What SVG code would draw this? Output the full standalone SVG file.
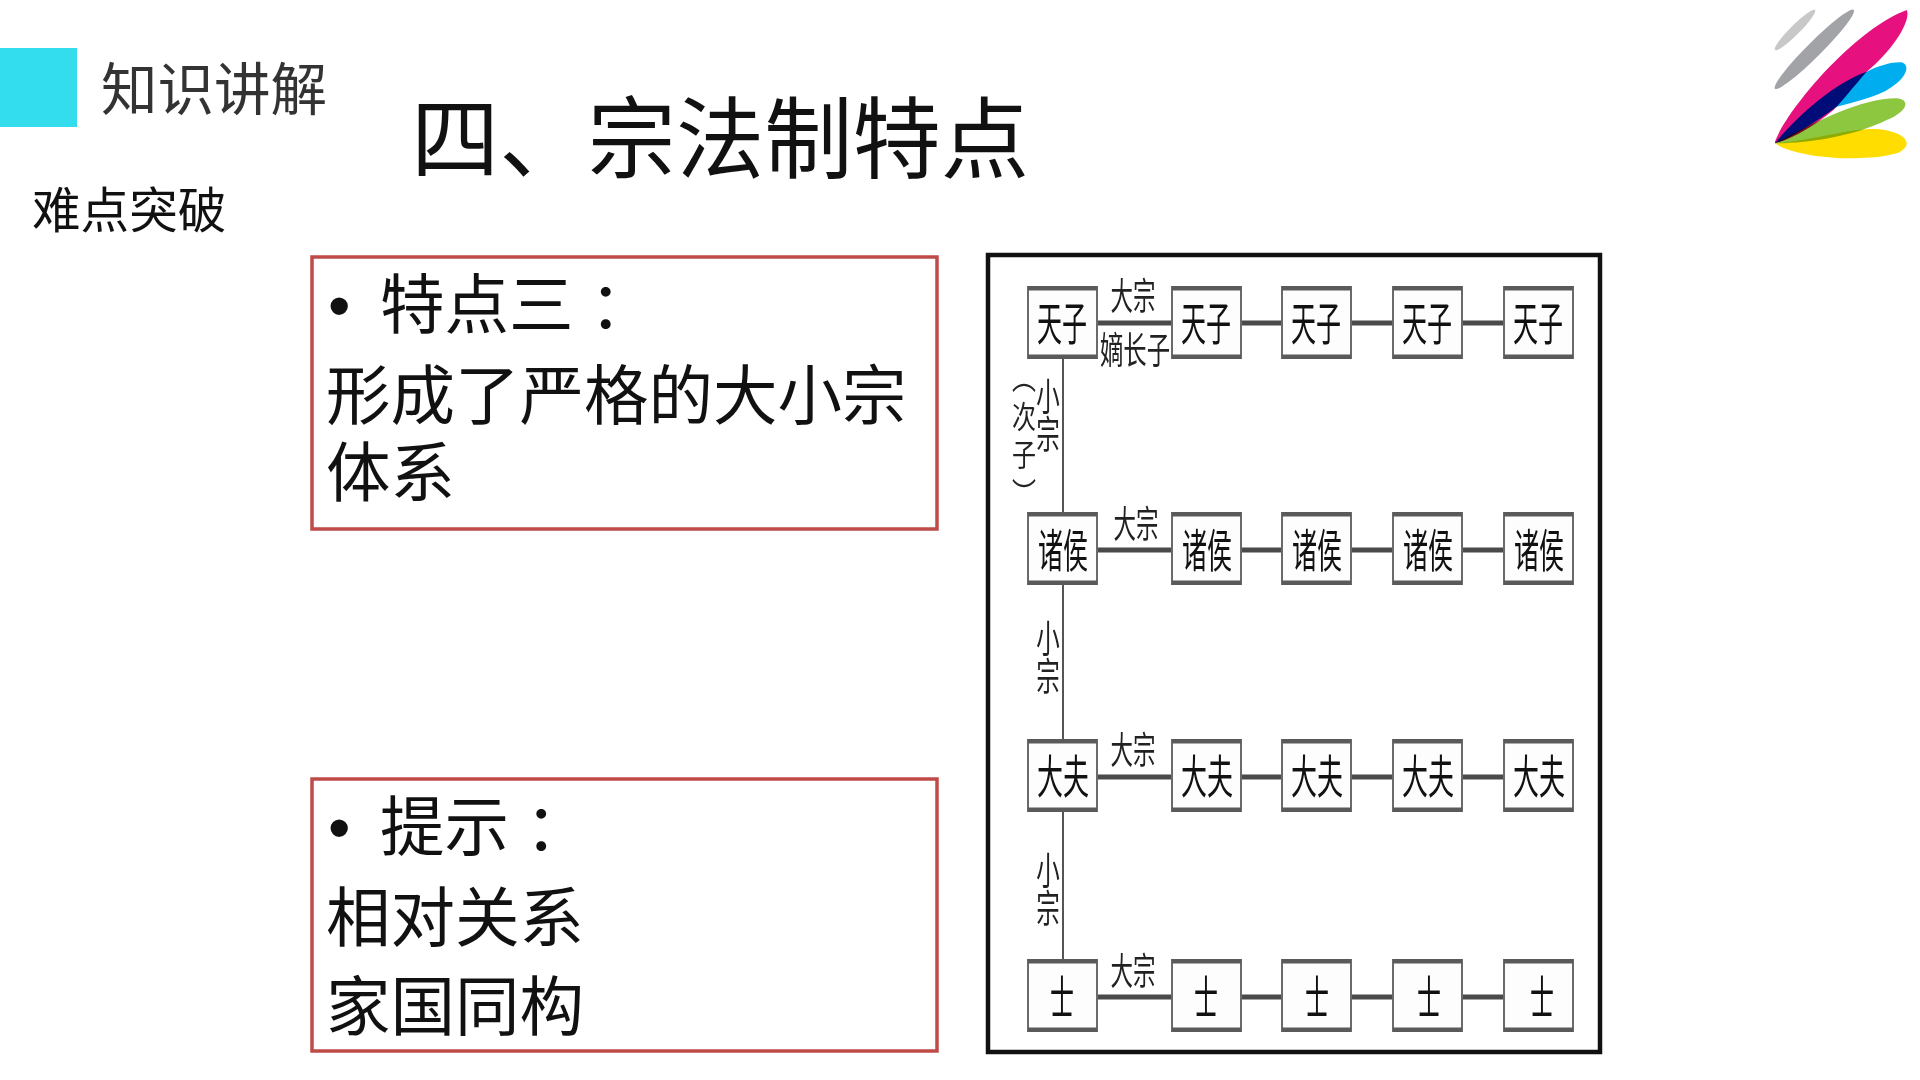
<svg xmlns="http://www.w3.org/2000/svg" width="1920" height="1080" viewBox="0 0 1920 1080">
<style>
text{font-family:"Noto Sans CJK SC","Noto Sans",sans-serif;fill:#111}
.b{fill:none;stroke:#BE4B48;stroke-width:3.5}
.t{font-size:64.5px}
.bu{font-family:"Liberation Sans",sans-serif;font-size:64px}
.n{fill:#fdfdfd;stroke:#6a6a6a;stroke-width:2}
.bar{fill:#5a5a5a}
.nt{font-size:46px;text-anchor:middle}
.l{font-size:37px;fill:#222;text-anchor:middle}
.vl{font-size:38px;fill:#222;writing-mode:vertical-rl}
.vp{font-size:30px;fill:#222;writing-mode:vertical-rl;letter-spacing:8px}
.c{stroke:#4a4a4a;stroke-width:5;fill:none}
.v{stroke:#555;stroke-width:2;fill:none}
</style>
<defs>
<g id="nd"><rect class="n" x="0" y="0" width="69" height="71"/><rect class="bar" x="0" y="-1" width="69" height="4.5"/><rect class="bar" x="0" y="67.5" width="69" height="4.5"/></g>
</defs>
<rect width="1920" height="1080" fill="#fff"/>
<g id="logo" transform="translate(1720 0) scale(.33333)">
<ellipse cx="225" cy="90" rx="85" ry="14" fill="#c8c8c8" transform="rotate(-45 225 90)"/>
<ellipse cx="283" cy="148" rx="167" ry="22" fill="#a1a3a6" transform="rotate(-45 283 148)"/>
<path d="M165 425C200 330 400 90 560 30C575 60 520 150 440 215C400 260 370 300 340 330C280 380 220 415 165 430Z" fill="#E6117F"/>
<path d="M165 430C230 350 340 250 440 215C480 195 520 185 545 187C570 195 560 225 530 250C490 285 430 300 350 320C280 370 220 410 165 430Z" fill="#00ADEF" style="mix-blend-mode:multiply"/>
<path d="M165 430C280 370 420 295 530 295C575 300 560 335 500 360C400 410 260 430 165 430Z" fill="#8DC63F" style="mix-blend-mode:multiply"/>
<path d="M165 430C290 420 400 380 480 388C570 400 580 440 530 460C450 485 240 480 165 430Z" fill="#FFDD00" style="mix-blend-mode:multiply"/>
</g>
<g id="header">
<rect x="0" y="48" width="77" height="79" fill="#33DDEE"/>
<text x="101" y="110" font-size="56.5" style="fill:#333">知识讲解</text>
<text x="411" y="171" font-size="88.3">四、宗法制特点</text>
<text x="32" y="228" font-size="48.6">难点突破</text>
</g>
<g id="box1">
<rect class="b" x="312" y="257" width="625" height="272"/>
<text class="bu" x="328" y="328">•</text>
<text class="t" x="380" y="328">特点三<tspan dy="4" style="font-family:'Noto Sans CJK TC',sans-serif">：</tspan></text>
<text class="t" x="326" y="419">形成了严格的大小宗</text>
<text class="t" x="326" y="496">体系</text>
</g>
<g id="box2">
<rect class="b" x="312" y="779" width="625" height="272"/>
<text class="bu" x="328" y="850">•</text>
<text class="t" x="380" y="850">提示<tspan dy="4" style="font-family:'Noto Sans CJK TC',sans-serif">：</tspan></text>
<text class="t" x="326" y="941">相对关系</text>
<text class="t" x="326" y="1030">家国同构</text>
</g>
<rect id="frame" x="988" y="255" width="612" height="797" fill="none" stroke="#111" stroke-width="4.5"/>
<g id="connectors">
<path class="v" d="M1063 358V959"/>
<path class="c" d="M1097 323H1504M1097 550H1504M1097 777H1504M1097 997H1504"/>
</g>
<g id="labels">
<text class="l" x="1133" y="310" textLength="45" lengthAdjust="spacingAndGlyphs">大宗</text>
<text class="l" x="1135" y="364" textLength="70" lengthAdjust="spacingAndGlyphs">嫡长子</text>
<text class="l" x="1136" y="538" textLength="45" lengthAdjust="spacingAndGlyphs">大宗</text>
<text class="l" x="1133" y="764" textLength="45" lengthAdjust="spacingAndGlyphs">大宗</text>
<text class="l" x="1133" y="985" textLength="45" lengthAdjust="spacingAndGlyphs">大宗</text>
<text class="vl" transform="translate(1048 377) scale(.62 1)">小宗</text>
<text class="vl" transform="translate(1048 619) scale(.62 1)">小宗</text>
<text class="vl" transform="translate(1048 851) scale(.62 1)">小宗</text>
<text class="vp" transform="translate(1024 362) scale(.8 1.02)">（次子）</text>
</g>
<g id="nodes">
<g id="n11"><use href="#nd" x="1028" y="287"/><text class="nt" x="1062" y="340" textLength="50" lengthAdjust="spacingAndGlyphs">天子</text></g>
<g id="n12"><use href="#nd" x="1172" y="287"/><text class="nt" x="1206" y="340" textLength="50" lengthAdjust="spacingAndGlyphs">天子</text></g>
<g id="n13"><use href="#nd" x="1282" y="287"/><text class="nt" x="1316" y="340" textLength="50" lengthAdjust="spacingAndGlyphs">天子</text></g>
<g id="n14"><use href="#nd" x="1393" y="287"/><text class="nt" x="1427" y="340" textLength="50" lengthAdjust="spacingAndGlyphs">天子</text></g>
<g id="n15"><use href="#nd" x="1504" y="287"/><text class="nt" x="1538" y="340" textLength="50" lengthAdjust="spacingAndGlyphs">天子</text></g>
<g id="n21"><use href="#nd" x="1028" y="513"/><text class="nt" x="1063" y="567" textLength="50" lengthAdjust="spacingAndGlyphs">诸侯</text></g>
<g id="n22"><use href="#nd" x="1172" y="513"/><text class="nt" x="1207" y="567" textLength="50" lengthAdjust="spacingAndGlyphs">诸侯</text></g>
<g id="n23"><use href="#nd" x="1282" y="513"/><text class="nt" x="1317" y="567" textLength="50" lengthAdjust="spacingAndGlyphs">诸侯</text></g>
<g id="n24"><use href="#nd" x="1393" y="513"/><text class="nt" x="1428" y="567" textLength="50" lengthAdjust="spacingAndGlyphs">诸侯</text></g>
<g id="n25"><use href="#nd" x="1504" y="513"/><text class="nt" x="1539" y="567" textLength="50" lengthAdjust="spacingAndGlyphs">诸侯</text></g>
<g id="n31"><use href="#nd" x="1028" y="740"/><text class="nt" x="1063" y="793" textLength="52" lengthAdjust="spacingAndGlyphs">大夫</text></g>
<g id="n32"><use href="#nd" x="1172" y="740"/><text class="nt" x="1207" y="793" textLength="52" lengthAdjust="spacingAndGlyphs">大夫</text></g>
<g id="n33"><use href="#nd" x="1282" y="740"/><text class="nt" x="1317" y="793" textLength="52" lengthAdjust="spacingAndGlyphs">大夫</text></g>
<g id="n34"><use href="#nd" x="1393" y="740"/><text class="nt" x="1428" y="793" textLength="52" lengthAdjust="spacingAndGlyphs">大夫</text></g>
<g id="n35"><use href="#nd" x="1504" y="740"/><text class="nt" x="1539" y="793" textLength="52" lengthAdjust="spacingAndGlyphs">大夫</text></g>
<g id="n41"><use href="#nd" x="1028" y="960"/><text class="nt" x="1062" y="1014" textLength="24" lengthAdjust="spacingAndGlyphs">士</text></g>
<g id="n42"><use href="#nd" x="1172" y="960"/><text class="nt" x="1206" y="1014" textLength="24" lengthAdjust="spacingAndGlyphs">士</text></g>
<g id="n43"><use href="#nd" x="1282" y="960"/><text class="nt" x="1317" y="1014" textLength="24" lengthAdjust="spacingAndGlyphs">士</text></g>
<g id="n44"><use href="#nd" x="1393" y="960"/><text class="nt" x="1429" y="1014" textLength="24" lengthAdjust="spacingAndGlyphs">士</text></g>
<g id="n45"><use href="#nd" x="1504" y="960"/><text class="nt" x="1542" y="1014" textLength="24" lengthAdjust="spacingAndGlyphs">士</text></g>
</g>
</svg>
